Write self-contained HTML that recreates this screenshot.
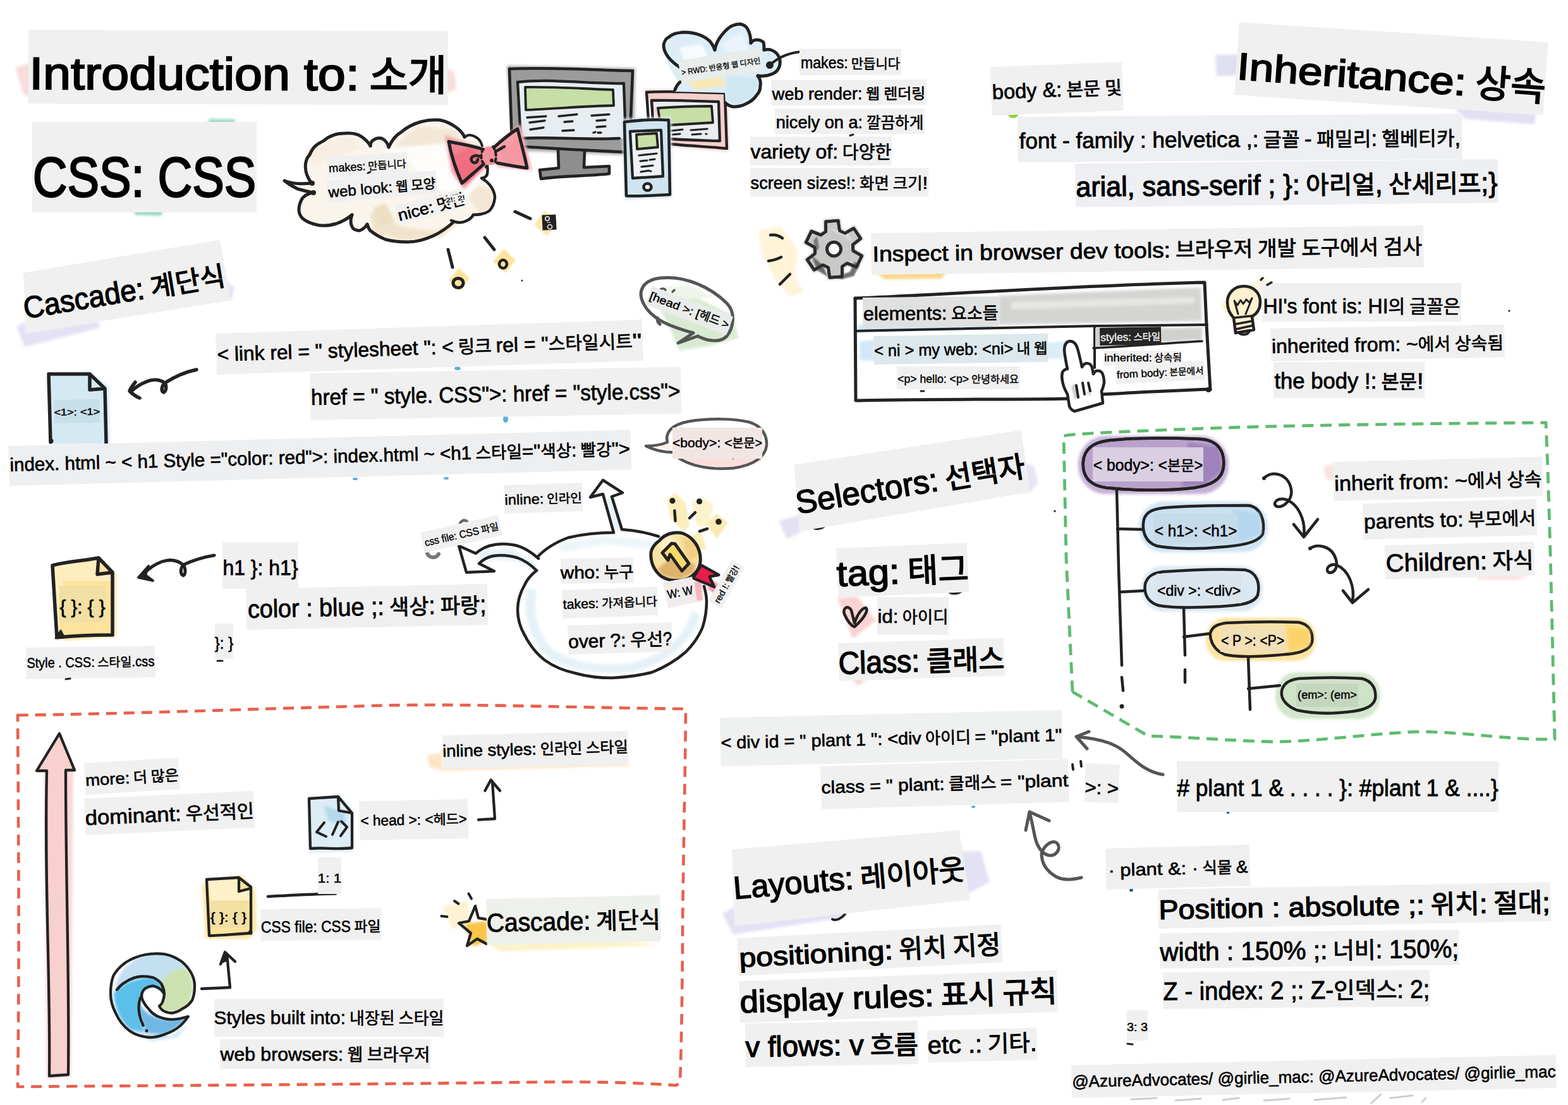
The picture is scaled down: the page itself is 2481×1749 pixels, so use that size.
<!DOCTYPE html>
<html lang="ko"><head><meta charset="utf-8"><title>Introduction to CSS sketchnote</title>
<style>
html,body{margin:0;padding:0;background:#fff;}
body{width:2481px;height:1749px;overflow:hidden;font-family:"Liberation Sans","Noto Sans CJK KR",sans-serif;}
svg{display:block;font-family:"Liberation Sans","Noto Sans CJK KR",sans-serif;}
text{white-space:pre;}
.k{fill:none;stroke:#222;stroke-linecap:round;stroke-linejoin:round;}
.g{fill:none;stroke:#555;stroke-linecap:round;stroke-linejoin:round;}
</style></head><body>
<svg width="2481" height="1749" viewBox="0 0 2481 1749" stroke-width="5">
<defs>
<filter id="wc" x="-10%" y="-10%" width="120%" height="120%"><feGaussianBlur stdDeviation="2.2"/></filter>
<filter id="wc1" x="-10%" y="-10%" width="120%" height="120%"><feGaussianBlur stdDeviation="1.2"/></filter>
</defs>
<rect width="2481" height="1749" fill="#fff"/>
<g id="under">
<!-- watercolor strokes behind titles -->
<g filter="url(#wc)">
<path d="M24,107 L46,100 L700,104 L719,115 L722,141 L709,148 L46,152 L37,150 Z" fill="#f9dddd"/>
<path d="M330,188 L372,189 L372,196 L330,196 Z" fill="#9ad9c6"/>
<path d="M213,332 L256,333 L256,341 L213,340 Z" fill="#8fd4c0"/>
<path d="M26,517 L41,509 L42,526 L156,508 L158,519 L39,549 Z" fill="#e3e1f4"/>
<path d="M352,440 L371,455 L366,476 L350,470 Z" fill="#e6e4f5"/>
<path d="M1923,87 L1962,86 L1960,119 L1925,121 Z" fill="#e0dff2"/>
<path d="M2300,170 L2430,180 L2428,197 L2318,188 Z" fill="#e2e0f3"/>
<path d="M1232,825 L1266,815 L1268,842 L1245,853 Z" fill="#e3e1f4"/>
<path d="M1612,732 L1636,737 L1642,764 L1630,780 L1612,776 Z" fill="#e6e4f6"/>
<path d="M1518,1348 L1552,1347 L1566,1396 L1532,1414 Z" fill="#e3e1f4"/>
<path d="M1143,1446 L1163,1435 L1164,1464 L1332,1444 L1336,1452 L1160,1479 Z" fill="#e3e1f4"/>
<path d="M1380,428 L1500,426 L1490,441 L1400,442 Z" fill="#fbd58a"/>
<path d="M1325,947 L1356,943 L1386,982 L1349,1011 Z" fill="#f9d3d0"/>
<path d="M1348,1074 L1370,1076 L1358,1086 Z" fill="#f9d3d0"/>
<path d="M2094,738 L2112,735 L2112,760 L2098,758 Z" fill="#fbe1de"/>
<path d="M2330,908 L2420,910 L2400,918 L2340,917 Z" fill="#fbe1de"/>
</g>
<!-- small blue drops -->
<g fill="#5aaee0"><ellipse cx="724" cy="583" rx="5" ry="3"/><ellipse cx="800" cy="663" rx="4" ry="6"/><ellipse cx="562" cy="758" rx="4" ry="2"/><ellipse cx="706" cy="757" rx="4" ry="2"/><ellipse cx="1540" cy="1277" rx="3" ry="2"/></g>
<g fill="#1f5f9a"><ellipse cx="1790" cy="1409" rx="3" ry="2.5"/><ellipse cx="1943" cy="1286" rx="2.5" ry="2"/></g>
<ellipse cx="1603" cy="181" rx="8" ry="6" fill="#8fd04a"/>

</g>
<g id="illus">
<!-- speech cloud -->
<g>
<path d="M450,286 C465,292 480,291 493,290 C478,270 483,252 490,245 C495,232 503,227 512,223 C522,214 533,211 545,211 C558,210 568,213 573,217 C580,222 584,227 586,231 C586,226 588,223 592,221 C596,218 600,218 604,219 C610,222 614,228 615,233 C620,222 626,214 635,209 C645,200 655,196 665,193 C676,190 686,189 696,190 C706,192 714,196 721,201 C728,206 733,212 735,217 C739,214 742,213 745,214 C751,215 755,218 758,221 C761,224 762,228 763,231 L772,268 C772,273 771,276 770,278 C767,281 764,282 762,282 C769,286 774,291 778,297 C781,302 783,308 783,313 C782,322 779,329 774,334 C768,338 758,340 749,340 C746,345 742,348 737,350 C731,353 723,353 717,352 C708,360 697,368 686,373 C673,379 659,383 645,383 C633,383 621,382 610,379 C600,375 592,370 586,365 C583,362 582,358 581,355 C578,360 574,363 569,365 C565,365 562,364 559,362 C556,358 555,354 555,350 C555,346 556,343 557,340 C550,346 541,351 532,354 C522,357 511,358 502,356 C493,354 485,351 479,346 C475,342 473,337 473,332 C473,325 475,319 479,313 C483,309 489,306 495,305 C486,303 478,301 471,299 C463,295 456,291 450,286 Z" fill="#faf5ec" stroke="none"/>
<g filter="url(#wc)" opacity="0.9">
<path d="M615,240 L660,200 L720,205 L735,225 L700,235 L650,255 Z" fill="#f2e7d3"/>
<path d="M585,335 L640,360 L690,365 L735,345 L700,375 L640,380 L590,368 Z" fill="#f0e2c8"/>
<path d="M740,290 L778,300 L780,325 L760,338 L745,320 Z" fill="#f1e6d2"/>
<path d="M590,330 L610,322 L625,350 L600,360 Z" fill="#ecdcc0"/>
<path d="M480,240 L520,225 L560,215 L570,235 L500,262 Z" fill="#f6eee0"/>
</g>
<path d="M600,235 L730,225 L765,285 L740,310 L690,300 L640,250 Z" fill="#fff" opacity="0.85" filter="url(#wc)"/>
<path class="k" d="M493,290 C480,291 465,292 450,286 C456,291 463,295 471,299 C478,301 486,303 495,305"/>
<path class="k" d="M493,290 C478,270 483,252 490,245 C495,232 503,227 512,223 C522,214 533,211 545,211 C558,210 568,213 573,217 C580,222 584,227 586,231"/>
<path class="k" d="M586,231 C586,226 588,223 592,221 C596,218 600,218 604,219 C610,222 614,228 615,233"/>
<path class="k" d="M615,233 C620,222 626,214 635,209 C645,200 655,196 665,193 C676,190 686,189 696,190 C706,192 714,196 721,201 C728,206 733,212 735,217"/>
<path class="k" d="M735,217 C739,214 742,213 745,214 C751,215 755,218 758,221 C761,224 762,228 763,231" stroke-width="4"/>
<path class="k" d="M771,262 C772,270 771,276 770,278 C767,281 764,282 762,282 C769,286 774,291 778,297 C781,302 783,308 783,313 C782,322 779,329 774,334 C768,338 758,340 749,340" stroke-width="4.5"/>
<path class="k" d="M749,340 C746,345 742,348 737,350 C731,353 723,353 714,349" stroke-width="4.5"/>
<path class="k" d="M717,352 C708,360 697,368 686,373 C673,379 659,383 645,383 C633,383 621,382 610,379 C600,375 592,370 586,365 C583,362 582,358 581,355"/>
<path class="k" d="M581,355 C578,360 574,363 569,365 C565,365 562,364 559,362 C556,358 555,354 555,350 C555,346 556,343 557,340"/>
<path class="k" d="M557,340 C550,346 541,351 532,354 C522,357 511,358 502,356 C493,354 485,351 479,346 C475,342 473,337 473,332 C473,325 475,319 479,313 C483,309 489,306 495,305"/>
<circle cx="494" cy="290" r="4" fill="#222"/><circle cx="496" cy="305" r="4" fill="#222"/>
</g>
<!-- yellow tags -->
<g>
<g filter="url(#wc1)">
<path d="M862,333 L882,350 L866,374 L845,356 Z" fill="#fde8ad"/>
<path d="M797,394 L816,412 L800,432 L780,414 Z" fill="#fde39b"/>
<path d="M726,424 L743,440 L728,460 L710,444 Z" fill="#fde39b"/>
</g>
<path class="k" d="M815,335 L839,346"/>
<path class="k" d="M767,376 L782,395"/>
<path class="k" d="M709,395 L716,423"/>
<rect x="858" y="340" width="22" height="24" fill="#222" transform="rotate(-3 869 352)"/>
<circle cx="866" cy="346" r="3.2" fill="none" stroke="#eee" stroke-width="1.6"/><circle cx="870" cy="359" r="3.5" fill="none" stroke="#eee" stroke-width="1.6"/>
<circle cx="867" cy="352" r="0.9" fill="#eee"/><circle cx="870" cy="352" r="0.9" fill="#eee"/>
<ellipse cx="796" cy="418" rx="6" ry="6.5" fill="#fde39b" stroke="#222" stroke-width="4.5"/>
<ellipse cx="725" cy="448" rx="8" ry="7.5" fill="#fde39b" stroke="#222" stroke-width="5"/>
<circle cx="826" cy="444" r="1.5" fill="#333"/>
</g>
<!-- monitor -->
<g>
<path d="M802,104 L1005,108 L1003,246 L812,238 Z" fill="#a9a9a9" filter="url(#wc)"/>
<path d="M806,109 L1001,112 L997,241 L810,230 Z" fill="#9b9b9b"/>
<path d="M883,237 L925,239 L923,266 L964,263 L964,276 L855,284 L854,268 L884,266 Z" fill="#8e8e8e"/>
<path d="M819,128 L987,132 L990,219 L824,219 Z" fill="#e7edf0"/>
<path d="M831,138 L970,142 L971,167 L832,174 Z" fill="#c6dfa7"/>
<path class="k" d="M806,109 C870,106 940,111 1001,112" stroke-width="4.6"/>
<path class="k" d="M806,109 L810,226" stroke-width="4.6"/>
<path class="k" d="M1001,112 L998,188" stroke-width="4.6"/>
<path class="k" d="M819,130 C870,124 930,133 987,132 L990,219" stroke-width="4.3"/>
<path class="k" d="M819,130 L824,219 C870,216 930,222 980,219" stroke-width="4.3"/>
<path class="k" d="M831,138 C880,137 930,141 970,142 L971,167 C925,168 880,172 832,174 Z" stroke-width="3.8"/>
<path class="k" d="M830,232 C880,236 940,238 993,241" stroke-width="4.6"/>
<path class="k" d="M883,238 L884,266 L854,269 L856,283 C890,278 930,279 964,275 L964,263 L924,265 L925,240" stroke-width="4.6"/>
<g class="k" stroke-width="3.3">
<path d="M834,186 L864,184"/><path d="M838,194 L862,191"/><path d="M839,205 L860,202"/>
<path d="M884,184 L913,181"/><path d="M893,193 L906,192"/><path d="M890,207 L908,206"/>
<path d="M936,183 L964,181"/><path d="M944,191 L958,190"/><path d="M944,201 L958,200"/>
<path d="M939,210 L942,209"/><path d="M946,210 L951,210"/>
</g>
</g>
<!-- tablet -->
<g>
<path d="M1017,141 L1152,143 L1154,240 L1058,232 Z" fill="#f7d6d4" filter="url(#wc)"/>
<path d="M1023,145 L1147,147 L1150,235 L1060,227 Z" fill="#f5cfcd"/>
<path d="M1031,159 L1137,161 L1139,223 L1062,220 Z" fill="#e9edf0"/>
<path d="M1041,170 L1126,168 L1128,194 L1044,200 Z" fill="#c6dfa7"/>
<path class="k" d="M1023,146 C1060,143 1110,147 1147,147 L1150,235 C1120,232 1090,231 1062,228" stroke-width="4.3"/>
<path class="k" d="M1023,146 L1026,190" stroke-width="4.3"/>
<path class="k" d="M1031,159 C1070,158 1100,160 1137,161 L1139,223 C1110,222 1090,222 1063,220" stroke-width="4.3"/>
<path class="k" d="M1031,159 L1033,190" stroke-width="4.3"/>
<path class="k" d="M1041,171 C1070,169 1100,168 1126,168 L1128,194 L1060,198" stroke-width="3.8"/>
<path class="k" d="M1041,171 L1044,190" stroke-width="3.8"/>
<g class="k" stroke-width="3.2">
<path d="M1062,207 L1080,205"/><path d="M1064,213 L1076,212"/><path d="M1093,206 L1119,204"/><path d="M1095,213 L1109,212"/><path d="M1117,212 L1118,212"/>
</g>
</g>
<!-- phone -->
<g>
<path d="M984,188 L1062,185 L1064,312 L988,316 Z" fill="#d5e8f2" filter="url(#wc)"/>
<path d="M988,193 L1058,190 L1060,308 L991,310 Z" fill="#cfe4ef"/>
<path d="M997,208 L1046,206 L1049,279 L1001,282 Z" fill="#eef2f4"/>
<path d="M1007,213 L1039,211 L1041,233 L1008,236 Z" fill="#c6dfa7"/>
<path class="k" d="M988,193 C1010,190 1040,189 1058,190 L1060,308 C1040,309 1010,311 991,310 Z" stroke-width="4.6"/>
<path class="k" d="M997,208 L1046,206 L1049,279 L1001,282 Z" stroke-width="4.3"/>
<path class="k" d="M1007,213 L1039,211 L1041,233 L1008,236 Z" stroke-width="3.8"/>
<g class="k" stroke-width="3.2">
<path d="M1011,246 L1039,243"/><path d="M1013,255 L1024,254"/><path d="M1028,253 L1036,252"/><path d="M1015,264 L1033,262"/><path d="M1014,272 L1027,270"/><path d="M1029,271 L1030,271"/>
</g>
<ellipse cx="1024.5" cy="296" rx="6" ry="5.5" fill="#fff" stroke="#222" stroke-width="4.6"/>
</g>
<!-- bow tie -->
<g>
<g filter="url(#wc)">
<path d="M704,214 L768,236 L770,262 L734,300 L714,272 Z" fill="#f6a3ab"/>
<path d="M778,232 L824,196 L842,270 L786,264 Z" fill="#f7b3b9"/>
<path d="M712,246 L748,232 L768,262 L736,292 Z" fill="#ee5a70"/>
<path d="M718,262 L740,250 L752,275 L733,292 Z" fill="#e94862"/>
<path d="M792,238 L822,214 L836,256 L800,260 Z" fill="#f38b97"/>
<circle cx="772" cy="246" r="14" fill="#f5a6ae"/>
</g>
<path d="M710,224 C728,228 746,230 763,236 C759,244 760,254 765,260 C754,270 742,280 731,290 C722,270 714,248 710,224 Z" fill="#f27a89" opacity="0.75"/>
<path d="M782,233 C794,222 806,212 819,204 C824,225 830,246 834,266 C818,264 802,261 787,258 C786,250 786,240 782,233 Z" fill="#f59aa4" opacity="0.8"/>
<path d="M763,236 C770,232 778,231 782,233 C786,240 786,252 787,258 C780,262 772,262 765,260 C760,254 759,244 763,236 Z" fill="#f3909b"/>
<path class="k" d="M710,224 C728,228 746,230 763,236 M710,224 C714,248 722,270 731,290 C742,280 754,270 765,260"/>
<path class="k" d="M782,233 C794,222 806,212 819,204 C824,225 830,246 834,266 C818,264 802,261 787,258"/>
<path class="k" d="M765,236 C760,242 760,254 766,260 M780,232 C786,240 786,252 782,260" stroke-width="4" stroke-dasharray="5 5"/>
<path class="k" d="M760,248 C752,244 744,248 746,254 C748,260 756,258 756,252" stroke-width="4.5"/>
<path class="k" d="M784,240 L798,232" stroke-width="4.5"/>
<circle cx="770" cy="264" r="3" fill="#222"/><circle cx="778" cy="254" r="3" fill="#222"/>
</g>
<!-- RWD cloud -->
<g>
<path d="M1068,142 L1074,130 C1060,110 1050,90 1050,71 C1052,62 1055,60 1058,59 C1066,52 1074,52 1081,51 C1092,51 1102,53 1109,56 C1118,60 1123,64 1126,69 C1129,73 1130,76 1131,79 C1132,72 1135,66 1138,61 C1144,52 1150,46 1156,42 C1162,39 1166,38 1171,38 C1177,39 1181,42 1183,46 C1187,53 1188,60 1188,68 C1191,64 1194,63 1197,63 C1202,63 1205,64 1208,67 C1209,71 1209,75 1209,79 C1213,78 1217,78 1220,79 C1226,81 1230,85 1232,89 C1235,95 1235,100 1233,106 C1231,111 1227,115 1222,117 C1215,120 1207,121 1199,120 C1203,125 1204,131 1203,136 C1203,142 1201,147 1197,151 C1193,157 1186,162 1179,165 C1173,168 1167,169 1160,169 C1155,168 1151,166 1148,163 L1147,147 L1068,145 Z" fill="#dcedf6"/>
<g filter="url(#wc)"><path d="M1075,75 L1110,70 L1125,100 L1090,120 Z" fill="#fff" opacity="0.8"/><path d="M1150,120 L1200,125 L1195,150 L1165,165 L1150,160 Z" fill="#cfe6f3"/><path d="M1140,70 L1175,50 L1185,80 L1160,95 Z" fill="#eaf4fa"/><path d="M1085,128 L1140,120 L1150,135 L1100,142 Z" fill="#f8e9b5"/></g>
<path class="k" d="M1068,142 C1070,137 1072,133 1076,130"/>
<path class="k" d="M1078,108 C1062,98 1050,86 1050,71 C1052,62 1055,60 1058,59 C1066,52 1074,52 1081,51 C1092,51 1102,53 1109,56 C1118,60 1123,64 1126,69 C1129,73 1130,76 1131,79"/>
<path class="k" d="M1131,79 C1132,72 1135,66 1138,61 C1144,52 1150,46 1156,42 C1162,39 1166,38 1171,38 C1177,39 1181,42 1183,46 C1187,53 1188,60 1188,68"/>
<path class="k" d="M1188,68 C1191,64 1194,63 1197,63 C1202,63 1205,64 1208,67 C1209,71 1209,75 1209,79"/>
<path class="k" d="M1209,79 C1213,78 1217,78 1220,79 C1226,81 1230,85 1232,89 C1235,95 1235,100 1233,106 C1231,111 1227,115 1222,117 C1215,120 1207,121 1199,120"/>
<path class="k" d="M1199,120 C1203,125 1204,131 1203,136 C1203,142 1201,147 1197,151 C1193,157 1186,162 1179,165 C1173,168 1167,169 1160,169 C1155,168 1151,166 1148,163"/>
<circle cx="1218" cy="103" r="6" fill="#222"/>
<path class="k" d="M1218,103 C1230,92 1246,84 1266,82" stroke-width="4"/>
</g>

<!-- gear -->
<g>
<path d="M1306.6,366.7 L1306.6,350.7 L1326.2,349.3 L1328.4,365.1 L1337.0,369.3 L1350.8,361.3 L1361.8,377.6 L1349.2,387.4 L1349.9,397.0 L1363.7,404.9 L1355.1,422.6 L1340.3,416.6 L1332.4,421.9 L1332.4,437.9 L1312.8,439.3 L1310.6,423.5 L1302.0,419.3 L1288.2,427.3 L1277.2,411.0 L1289.8,401.2 L1289.1,391.6 L1275.3,383.7 L1283.9,366.0 L1298.7,372.0 Z" fill="#cfcfcd" stroke="#cfcfcd" stroke-width="8" filter="url(#wc1)"/>
<path d="M1306.6,366.7 L1306.6,350.7 L1326.2,349.3 L1328.4,365.1 L1337.0,369.3 L1350.8,361.3 L1361.8,377.6 L1349.2,387.4 L1349.9,397.0 L1363.7,404.9 L1355.1,422.6 L1340.3,416.6 L1332.4,421.9 L1332.4,437.9 L1312.8,439.3 L1310.6,423.5 L1302.0,419.3 L1288.2,427.3 L1277.2,411.0 L1289.8,401.2 L1289.1,391.6 L1275.3,383.7 L1283.9,366.0 L1298.7,372.0 Z" fill="#c9c9c7" stroke="#2a2a2a" stroke-width="4.6" stroke-linejoin="round"/>
<g filter="url(#wc1)"><path d="M1284,404 L1293,428 L1310,438 L1302,420 Z" fill="#6b6b69"/><path d="M1324,438 L1345,430 L1352,414 L1360,419 L1351,437 L1331,442 Z" fill="#70706e"/><path d="M1287,381 L1293,374 L1296,392 L1291,399 Z" fill="#777"/><path d="M1312,362 L1340,366 L1349,384 L1335,373 Z" fill="#dcdcda"/></g>
<path d="M1306.6,366.7 L1306.6,350.7 L1326.2,349.3 L1328.4,365.1 L1337.0,369.3 L1350.8,361.3 L1361.8,377.6 L1349.2,387.4 L1349.9,397.0 L1363.7,404.9 L1355.1,422.6 L1340.3,416.6 L1332.4,421.9 L1332.4,437.9 L1312.8,439.3 L1310.6,423.5 L1302.0,419.3 L1288.2,427.3 L1277.2,411.0 L1289.8,401.2 L1289.1,391.6 L1275.3,383.7 L1283.9,366.0 L1298.7,372.0 Z" fill="none" stroke="#2a2a2a" stroke-width="4.6" stroke-linejoin="round"/>
<circle cx="1319.5" cy="394.3" r="11" fill="#fff" stroke="#2a2a2a" stroke-width="5"/>
<g filter="url(#wc)" opacity="0.9"><path d="M1200,365 L1235,358 L1262,395 L1258,440 L1272,462 L1250,470 L1225,440 L1205,400 Z" fill="#fff3d4"/></g>
<path class="k" d="M1219,372 C1227,371 1233,373 1238,377" stroke-width="4.5"/>
<path class="k" d="M1216,413 C1224,412 1230,410 1236,407" stroke-width="4.5"/>
<path class="k" d="M1234,450 L1250,434" stroke-width="4.5"/>
</g>
<!-- head bubble -->
<g>
<ellipse cx="1086" cy="488" rx="79" ry="40" transform="rotate(21 1086 488)" fill="#fff"/>
<g filter="url(#wc)"><path d="M1040,480 L1100,470 L1160,500 L1168,535 L1120,548 L1075,555 L1060,520 Z" fill="#d9ead2"/><path d="M1045,455 L1090,450 L1130,470 L1080,475 Z" fill="#eef5ea"/></g>
<path class="g" d="M1097,527 C1060,517 1030,505 1018,480 C1008,460 1018,443 1045,440 C1085,436 1125,455 1150,480 C1165,495 1160,520 1150,532 C1140,543 1120,540 1104,532 M1097,527 L1073,543 L1104,532" stroke-width="5"/>
<path class="g" d="M1040,503 C1040,508 1041,511 1044,513" stroke-width="5"/>
<path class="g" d="M1043,459 C1047,456 1051,456 1053,459 M1064,462 L1067,459" stroke-width="3.5"/>
</g>
<!-- devtools panel -->
<g>
<path d="M1353,472 L1906,447 L1909,514 L1354,524 Z" fill="#fff"/>
<g filter="url(#wc)"><path d="M1580,468 L1900,455 L1902,508 L1580,514 Z" fill="#d4d4d2"/><path d="M1600,478 L1890,470 L1890,480 L1600,490 Z" fill="#e6e6e4"/><path d="M1836,520 L1902,518 L1902,538 L1836,542 Z" fill="#d0d0ce"/>
<path d="M1358,514 L1570,510 L1570,520 L1358,524 Z" fill="#cfe6f3"/><path d="M1360,540 L1384,538 L1384,572 L1360,570 Z" fill="#d3e8f4"/><path d="M1656,542 L1690,540 L1690,566 L1656,568 Z" fill="#dcedf6"/></g>
<path class="k" d="M1353,472 C1500,466 1700,452 1906,447 L1909,514 L1915,617" stroke-width="5"/>
<path class="k" d="M1353,472 L1354,634 C1450,631 1600,633 1690,631" stroke-width="5"/>
<path class="k" d="M1746,624 C1800,621 1860,618 1915,616" stroke-width="5"/>
<path class="k" d="M1353,524 C1500,520 1650,518 1730,516 C1800,515 1860,514 1910,514" stroke-width="4"/>
<path class="k" d="M1732,518 L1732,582" stroke-width="4"/>
<path class="k" d="M1730,551 C1790,548 1850,543 1902,540" stroke-width="3.5"/>
<rect x="1733" y="519" width="8" height="30" fill="#cfcfcf"/>
<circle cx="1912" cy="617" r="4" fill="#222"/>
</g>
<!-- lightbulb -->
<g>
<g filter="url(#wc)"><path d="M1932,485 L1950,456 L1985,450 L1996,470 L1990,505 L1955,515 Z" fill="#fdf0d0"/><path d="M1983,450 L1996,436 L2010,448 L1996,462 Z" fill="#fdf3dc"/></g>
<path d="M1968,453 C1985,453 1994,465 1994,478 C1994,490 1988,497 1981,501 L1984,522 L1955,527 L1952,503 C1946,497 1942,488 1942,478 C1942,465 1952,453 1968,453 Z" fill="#fdf0cf" stroke="#222" stroke-width="4.5" stroke-linejoin="round"/>
<path class="k" d="M1952,503 L1981,500 M1955,513 L1982,508 M1956,521 L1983,515" stroke-width="3.5"/>
<path class="k" d="M1960,526 C1964,531 1974,531 1977,524" stroke-width="4"/>
<path class="k" d="M1953,476 L1959,497 M1981,472 L1971,497 M1953,476 L1958,483 L1963,475 L1967,481 L1972,474 L1977,479 L1981,472" stroke-width="3"/>

</g>

<!-- blue file -->
<g>
<path d="M72,600 L140,586 L172,612 L174,702 L84,704 Z" fill="#d7ebf4" filter="url(#wc)"/>
<path d="M77,592 L142,592 L166,615 L168,702 L80,702 Z" fill="#d4eaf3"/>
<path class="k" d="M77,592 L142,592 L166,615 L168,702 M77,592 L80,700 M142,592 L142,617 L166,615" stroke-width="5.5"/>
<circle cx="81" cy="698" r="3.5" fill="#222"/>
<path class="k" d="M311,585 C292,589 275,597 261,606 C264,612 263,619 259,621 C254,619 256,610 261,606 C252,600 241,600 232,604 C222,608 214,613 207,620 M214,605 C210,610 206,615 205,619 C210,624 216,628 221,630" stroke-width="5.5"/>
</g>
<!-- yellow file -->
<g>
<path d="M92,898 L150,884 L184,908 L184,1008 L100,1014 Z" fill="#fde6a6" filter="url(#wc)"/>
<path d="M83,895 L156,883 L178,906 L178,1005 L90,1009 Z" fill="#fde39b"/>
<path d="M83,895 L156,883 L154,909 L178,906 L178,920 L100,920 L94,1000 L90,1009 Z" fill="#fff" opacity="0.35"/>
<path class="k" d="M83,895 C105,889 130,888 156,883 L178,906 L178,1005 C150,1005 120,1006 90,1009 Z M156,883 L154,909 L178,906" stroke-width="5.5"/>
<path d="M88,1010 L96,998 L100,1006 Z" fill="#222" stroke="#222" stroke-width="3" stroke-linejoin="round"/>
<path class="k" d="M339,879 C320,882 303,888 290,894 C294,900 294,909 290,911 C285,909 285,900 290,894 C280,886 268,885 256,889 C244,893 233,902 225,910" stroke-width="5"/>
<path d="M235,896 L219,914 L242,919 L230,910 Z" fill="#222" stroke="#222" stroke-width="4" stroke-linejoin="round"/>
</g>
<!-- big bubble who takes over -->
<g>
<path d="M1042,849 C1020,842 1000,839 984,838 L968,786 L985,780 L954,760 L934,787 L954,782 L971,843 C945,843 920,846 899,851 C880,858 863,868 850,882 C836,870 822,863 809,862 C796,860 784,861 774,864 C765,867 758,871 753,876 L726,864 L738,906 L782,904 L758,892 C764,886 771,882 780,880 C793,878 806,879 819,883 C830,887 840,894 849,903 C840,910 834,917 830,926 C822,940 819,952 819,965 C819,980 823,993 830,1005 C838,1021 848,1034 862,1045 C876,1055 893,1062 912,1066 C930,1071 949,1073 968,1073 C990,1072 1012,1069 1032,1064 C1052,1056 1070,1045 1085,1032 C1097,1020 1106,1007 1112,992 C1116,979 1118,966 1118,952 C1118,943 1116,935 1114,928 L1095,912 Z" fill="#fff"/>
<g filter="url(#wc)" opacity="0.9">
<path d="M835,930 C826,960 832,1000 860,1035 C890,1062 950,1068 1000,1064 C1050,1052 1095,1020 1108,975 L1095,965 C1085,1010 1045,1040 995,1050 C950,1055 900,1048 872,1025 C848,998 842,960 850,935 Z" fill="#e3f0f7"/>
<path d="M760,872 L810,868 L845,890 L850,905 L815,888 L775,886 L755,895 Z" fill="#e3f0f7"/>
<path d="M958,790 L972,786 L986,838 L972,842 Z" fill="#e6f1f7"/>
<path d="M880,860 L960,848 L1040,856 L1030,870 L960,862 L890,874 Z" fill="#edf5f9"/>
</g>
<path class="k" d="M1042,849 C1020,842 1000,839 984,838 L968,786 L985,780 L954,760 L934,787 L954,782 L971,843 C945,843 920,846 899,851 C880,858 863,868 850,882" stroke-width="4.5"/>
<path class="k" d="M852,884 C836,870 822,863 809,862 C796,860 784,861 774,864 C765,867 758,871 753,876 L726,864 L738,906 L782,904 L758,892 C764,886 771,882 780,880 C793,878 806,879 819,883 C830,887 840,894 849,903" stroke-width="4.5"/>
<path class="k" d="M849,903 C840,910 834,917 830,926 C822,940 819,952 819,965 C819,980 823,993 830,1005 C838,1021 848,1034 862,1045 C876,1055 893,1062 912,1066 C930,1071 949,1073 968,1073 C990,1072 1012,1069 1032,1064 C1052,1056 1070,1045 1085,1032 C1097,1020 1106,1007 1112,992 C1116,979 1118,966 1118,952 C1118,943 1116,935 1114,928" stroke-width="4.5"/>
<!-- gray blobs near css file label -->
<path d="M728,828 C732,822 738,822 740,828" fill="none" stroke="#666" stroke-width="4.5" stroke-linecap="round"/>
<path d="M676,876 C680,884 690,884 694,877" fill="none" stroke="#777" stroke-width="6" stroke-linecap="round"/>
</g>
<!-- sparkles -->
<g>
<g filter="url(#wc1)">
<path d="M1055,789.5 L1069,780 L1085,796 L1091,832 L1082,840 L1061.5,822 Z" fill="#fbeebb"/>
<path d="M1094,793 L1111,787 L1129,800 L1118.6,835 L1103,832 Z" fill="#fcf2cc"/>
<path d="M1118.6,828.4 L1134,813 L1151.6,827 L1134,853 Z" fill="#fbeab0"/>
<path d="M1090,850 L1110,842 L1118,870 L1100,868 Z" fill="#fbeebb"/>
</g>
<circle cx="1064" cy="792.7" r="4.6" fill="#222"/><circle cx="1106.6" cy="793.7" r="4.6" fill="#222"/><circle cx="1137" cy="825.8" r="4.8" fill="#222"/>
<path class="k" d="M1067.3,808.3 L1068.6,824.5 M1091,820 L1100,811.2 M1107,841 L1119.2,836.8" stroke-width="4.5"/>
</g>
<!-- medal -->
<g>
<g filter="url(#wc1)"><path d="M1098,920 L1110,918 L1112,950 L1102,952 Z" fill="#f6b6c0"/><path d="M1122,915 L1138,925 L1130,940 L1120,932 Z" fill="#f4a3b0"/></g>
<path d="M1109.5,894.5 L1137.4,910 L1122.5,912.7 L1130.2,929 L1096.5,915 Z" fill="#ea1c4c" stroke="#222" stroke-width="4.5" stroke-linejoin="round"/>
<ellipse cx="1069" cy="881" rx="38" ry="37" fill="#f9e2a3"/>
<g filter="url(#wc)"><path d="M1040,900 L1060,885 L1100,892 L1098,906 L1075,917 L1050,912 Z" fill="#ddb26c"/><path d="M1040,860 L1062,848 L1075,862 L1052,880 Z" fill="#fdf0c8"/><path d="M1078,850 L1100,856 L1106,880 L1090,888 Z" fill="#f2cf82"/></g>
<path d="M1043,856 C1052,845 1066,841 1080,844 C1096,850 1106,864 1108,880 C1110,896 1102,908 1090,915 C1076,921 1058,920 1046,912 C1034,902 1029,888 1030,874 C1032,866 1037,860 1043,856 Z" fill="none" stroke="#222" stroke-width="5" stroke-linejoin="round"/>
<path d="M1062.8,860 L1047.9,875 L1057,886.7 L1060.2,877.6 L1079,903.6 L1090,892 L1068,860.8 Z" fill="#f6d96b" stroke="#222" stroke-width="5" stroke-linejoin="round"/>
</g>
<!-- body bubble -->
<g>
<ellipse cx="1134" cy="703" rx="80" ry="38" fill="#fff"/>
<g filter="url(#wc)"><path d="M1060,715 L1210,700 L1205,730 L1160,742 L1100,738 Z" fill="#f8dfdb"/><path d="M1030,705 L1060,702 L1062,714 Z" fill="#fbe9e6"/></g>
<path class="g" d="M1056,700 C1052,685 1062,672 1090,667 C1120,662 1160,662 1185,668 C1206,674 1214,690 1213,705 C1211,722 1195,736 1160,741 C1125,744 1090,738 1070,722 C1068,720 1067,718 1066,716 C1052,716 1036,713 1022,706 C1034,706 1046,704 1056,700 Z" stroke-width="4.5"/>
<circle cx="1160" cy="725" r="2" fill="#444"/>
</g>

<!-- green dashed box -->
<path d="M1697,1095 L1687,883 L1683,690 C1700,686 1800,682 1937,677 C2100,672 2300,670 2446,669 C2452,800 2456,1000 2460,1170 C2400,1172 2330,1160 2252,1158 C2170,1160 2090,1174 2012,1174 C1940,1172 1870,1166 1817,1165 L1697,1095" fill="none" stroke="#5fbb70" stroke-width="4.8" stroke-dasharray="18 11" stroke-linejoin="round"/>
<!-- tree -->
<g>
<g filter="url(#wc)">
<rect x="1706" y="690" width="238" height="92" rx="44" fill="#c5b0d6"/>
<rect x="1802" y="794" width="204" height="80" rx="38" fill="#cfe5f3"/>
<rect x="1806" y="896" width="192" height="72" rx="34" fill="#dbe8f2"/>
<rect x="1908" y="978" width="174" height="68" rx="32" fill="#fde3a0"/>
<rect x="2018" y="1064" width="166" height="74" rx="34" fill="#d3e6cb"/>
</g>
<path d="M1755,697 C1800,692 1850,693 1900,695 C1928,697 1938,715 1936,738 C1934,760 1915,768 1890,772 C1840,778 1790,776 1750,772 C1722,768 1712,752 1714,730 C1716,710 1730,700 1755,697 Z" fill="#b9a1cc" stroke="#222" stroke-width="4.5"/>
<path d="M1880,700 L1930,708 L1934,745 L1905,768 L1870,770 Z" fill="#9f82bc" filter="url(#wc)"/>
<path d="M1755,697 C1800,692 1850,693 1900,695 C1928,697 1938,715 1936,738 C1934,760 1915,768 1890,772 C1840,778 1790,776 1750,772 C1722,768 1712,752 1714,730 C1716,710 1730,700 1755,697 Z" fill="none" stroke="#222" stroke-width="4.5"/>
<path d="M1840,804 C1880,800 1930,800 1975,800 C1995,802 2002,825 1998,845 C1990,860 1960,864 1930,866 C1890,870 1850,868 1830,864 C1812,858 1806,840 1810,822 C1814,810 1824,806 1840,804 Z" fill="#c9e1f1" stroke="#222" stroke-width="4.5"/>
<path d="M1950,806 L1992,812 L1996,845 L1960,858 Z" fill="#b5d7ee" filter="url(#wc)"/>
<path d="M1840,905 C1880,902 1930,900 1970,902 C1990,906 1994,925 1990,942 C1984,956 1960,958 1930,960 C1890,962 1850,962 1832,958 C1814,952 1810,938 1812,924 C1816,912 1824,907 1840,905 Z" fill="#dbe7f1" stroke="#222" stroke-width="4.5"/>
<path d="M1940,986 C1980,984 2020,984 2055,985 C2072,988 2078,1002 2076,1016 C2072,1032 2050,1035 2020,1037 C1990,1040 1955,1040 1938,1036 C1922,1030 1914,1015 1915,1002 C1918,992 1926,988 1940,986 Z" fill="#fde1a0" stroke="#222" stroke-width="4.5"/>
<path d="M2035,990 L2072,996 L2072,1022 L2040,1032 Z" fill="#fbd36a" filter="url(#wc)"/>
<path d="M2055,1074 C2090,1072 2125,1072 2155,1074 C2172,1078 2178,1092 2176,1106 C2172,1122 2150,1126 2120,1128 C2095,1130 2070,1128 2052,1124 C2036,1118 2026,1106 2028,1094 C2030,1082 2040,1076 2055,1074 Z" fill="#cfe3c7" stroke="#222" stroke-width="4.5"/>
<path class="k" d="M1767,775 L1770,900 L1775,1053 M1775,1072 L1777,1093 M1768,837 L1808,838 M1773,937 L1810,935" stroke-width="4.5"/>
<circle cx="1775" cy="1118" r="3.5" fill="#222"/>
<path class="k" d="M1873,962 L1875,1037 M1875,1060 L1875,1080 M1873,1008 L1913,1003" stroke-width="4.5"/>
<path class="k" d="M1975,1040 L1978,1123 M1975,1090 L2025,1085" stroke-width="4.5"/>
<!-- curly arrows -->
<path class="k" d="M2000,757 C2010,745 2035,748 2042,770 C2048,790 2032,802 2022,802 C2012,800 2018,788 2032,790 C2055,796 2066,825 2063,848 M2047,830 L2063,850 L2085,822" stroke-width="4.5"/>
<path class="k" d="M2073,868 C2085,860 2108,864 2114,886 C2118,902 2108,908 2102,906 C2096,900 2104,892 2114,894 C2135,902 2144,930 2140,952 M2125,935 L2140,954 L2165,933" stroke-width="4.5"/>
<circle cx="2000" cy="757" r="3" fill="#222"/><circle cx="2073" cy="868" r="3" fill="#222"/>
</g>

<!-- red dashed box -->
<path d="M28,1132 C200,1130 400,1122 561,1118 C700,1112 900,1120 1085,1122 C1084,1250 1080,1400 1080,1500 C1079,1600 1078,1660 1076,1713 L1070,1718 C990,1712 900,1712 830,1713 C600,1716 300,1718 28,1720 C31,1500 29,1300 28,1132 Z" fill="none" stroke="#e8604c" stroke-width="4.6" stroke-dasharray="17 11" stroke-linejoin="round"/>
<!-- big pink arrow -->
<g>
<path d="M70,1215 L92,1168 L116,1212 L112,1704 L74,1708 Z" fill="#f9d9d6" filter="url(#wc)"/>
<path d="M78,1703 C80,1550 70,1400 74,1220 L58,1220 L94,1161 L118,1219 L104,1219 C104,1400 110,1550 108,1701 Z" fill="#f8d0cd" stroke="#222" stroke-width="4.3" stroke-linejoin="round"/>
</g>
<!-- blue file -->
<g>
<path d="M486,1262 L538,1258 L560,1284 L560,1348 L490,1350 Z" fill="#e0eff6" filter="url(#wc)"/>
<path d="M489,1264 L535,1261 L557,1287 L557,1342 L491,1343 Z" fill="#ddedf5"/>
<path d="M512,1275 L545,1285 L548,1305 L520,1300 Z" fill="#b5d9ea" filter="url(#wc)"/>
<path class="k" d="M489,1264 L535,1261 L557,1287 L557,1342 C535,1345 510,1341 491,1343 Z M535,1261 L536,1283 L557,1287" stroke-width="4.3"/>
<path class="k" d="M513,1302 L501,1317 L516,1324 M535,1301 L526,1321 M540,1300 L549,1309 L539,1323" stroke-width="4"/>
</g>
<!-- yellow file small -->
<g>
<path d="M320,1400 L380,1384 L404,1408 L406,1470 L395,1486 L325,1486 Z" fill="#fde6a6" filter="url(#wc)"/>
<path d="M327,1392 L378,1389 L397,1404 L397,1477 L331,1481 Z" fill="#fde39b"/>
<path d="M327,1392 L378,1389 L378,1411 L397,1406 L397,1425 L333,1425 Z" fill="#fff" opacity="0.45"/>
<path class="k" d="M327,1392 L378,1389 L397,1404 L397,1477 C375,1478 350,1481 331,1481 Z M378,1389 L378,1411 L397,1406" stroke-width="4.3"/>
<circle cx="396" cy="1476" r="3.5" fill="#222"/>
<path class="k" d="M424,1419 C460,1417 500,1415 531,1414.5" stroke-width="4.5"/>
</g>
<!-- arrows -->
<path class="k" d="M319,1565 L364,1563 L359,1510 M349,1526 L356,1507 L372,1522" stroke-width="4.3"/>
<path d="M349,1526 L356,1507 L362,1520 Z" fill="#222"/>
<path class="k" d="M757,1297.5 L783,1296 L779,1237 M767.5,1251.5 L776.6,1234.5 L791,1251.5" stroke-width="4.3"/>
<!-- edge logo -->
<g>
<g filter="url(#wc)">
<path d="M183,1560 C190,1530 215,1512 245,1508 C275,1506 300,1530 306,1555 L262,1570 C255,1552 240,1545 222,1546 C205,1550 192,1558 183,1566 Z" fill="#c3dff2"/>
<path d="M180,1570 C200,1552 225,1545 243,1548 C255,1555 260,1565 258,1572 C250,1562 240,1560 230,1565 C222,1575 220,1595 224,1620 C228,1632 232,1640 238,1641 C205,1640 180,1610 180,1570 Z" fill="#5bbfea"/>
<path d="M222,1590 C228,1600 240,1612 268,1614 L296,1610 C285,1628 262,1640 236,1642 C228,1632 222,1610 222,1590 Z" fill="#6fb8e4"/>
<path d="M255,1556 C262,1540 285,1525 300,1538 C310,1560 306,1585 290,1596 C280,1602 265,1604 258,1600 L252,1592 C260,1585 262,1572 255,1556 Z" fill="#cbe2b0"/>
<path d="M205,1630 L240,1648 L280,1642 L300,1620 L270,1640 Z" fill="#cfe6f4"/>
</g>
<path class="k" d="M297.6,1609 C294,1615 290,1619 286,1623 C278,1630 270,1634 261,1637 C253,1640 245,1642 236.5,1642 C225,1641 214,1638 205.6,1632 C196,1625 188,1615 183,1603.5 C178,1594 175,1584 175,1572.6 C175,1562 176,1553 179.6,1544 C184,1536 191,1529 199.4,1523 C209,1517 219,1513 230,1511 C241,1509 251,1509 261,1510.3 C270,1512 279,1516 286,1521 C293,1526 298,1532 302,1539 C306,1546 308,1553 308,1560 C308,1568 307,1576 304.4,1582.5 C301,1588 296,1593 289.6,1596 C284,1600 278,1603 271,1603.5 C266,1603 262,1602 258.7,1600 C256,1598 253,1595 252,1592.4 C255,1590 257,1588 257.5,1585 C259,1581 260,1577 260,1572.6" stroke-width="4.3"/>
<path class="k" d="M185,1566.5 C189,1561 194,1557 199.4,1554 C207,1549 215,1546 224,1545.5 C231,1545 237,1546 242.6,1547.3 C248,1550 252,1553 255,1556.6 C258,1562 259.5,1567 260,1572.6" stroke-width="4.3"/>
<path class="k" d="M260,1573.5 C258,1570 256,1567 252.5,1565 C249,1562 245,1561 241.4,1560.3 C237,1561 232,1563 229,1565 C226,1568 224,1572 224,1576.3 C224,1580 225,1582 226.6,1585 C229,1590 232,1594 236.5,1598.6 C240,1603 244,1606 248.8,1608.5 C255,1611 261,1613 267.3,1613.4 C274,1614 280,1613 286,1612 C290,1611 294,1610 297.6,1609" stroke-width="4.3"/>
<path class="k" d="M224,1576 C221,1581 220,1586 219.8,1591 C219,1597 220,1602 221,1607 C222,1613 224,1618 226.6,1623" stroke-width="4.3"/>
<circle cx="232" cy="1631.5" r="2.5" fill="#222"/>
</g>
<!-- star -->
<g>
<g filter="url(#wc)"><path d="M700,1435 L740,1425 L745,1465 L715,1470 Z" fill="#fdf2d3"/><path d="M735,1462 L770,1458 L772,1490 L748,1498 Z" fill="#f9c546"/><path d="M770,1492 L900,1488 L1000,1490 L1040,1496 L900,1502 L790,1506 Z" fill="#fbf3c8"/></g>
<path class="k" d="M770,1455 L757,1453 L752,1434 L742,1458 L726,1461 L745,1477 L739,1497 L755,1486 L770,1494" stroke-width="4.3"/>
<path class="k" d="M698.5,1450 L707.5,1451 M719,1426 L725.5,1430.5 M741.5,1414.5 L746,1422.5" stroke-width="4"/>
</g>
<!-- orange stroke under inline styles -->
<g filter="url(#wc)"><path d="M676,1195 L700,1192 L700,1214 L990,1206 L1000,1212 L700,1220 L680,1214 Z" fill="#fde5c4"/></g>

<!-- gray arrows bottom right -->
<path class="g" d="M1840,1226 C1815,1222 1800,1208 1782,1192 C1768,1180 1750,1170 1703,1166 M1723,1158 L1703,1166 L1720,1185" stroke-width="5"/>
<path class="g" d="M1711,1389 C1695,1393 1680,1393 1670,1387 C1655,1378 1648,1365 1648,1351 C1652,1338 1664,1329 1672,1334 C1680,1342 1672,1355 1660,1354 C1648,1352 1640,1338 1637,1322 C1634,1308 1632,1296 1629,1286 M1623,1314 L1629,1285 L1660,1299" stroke-width="5"/>
<path class="k" d="M1697,1210 L1698,1218 M1710,1205 L1711,1213" stroke-width="4"/>
<!-- heart -->
<path class="k" d="M1336,972 C1333,962 1342,957 1347,966 L1352,986 C1356,975 1362,963 1370,962 C1375,966 1366,980 1352,992 C1346,990 1340,981 1336,972" stroke-width="4.5"/>
<!-- small dark curls -->
<path class="k" d="M1503,938 C1510,941 1518,939 1523,934" stroke-width="4"/>
<path class="k" d="M1317,1455 C1323,1458 1331,1454 1337,1447" stroke-width="4"/>
<path class="k" d="M1288,836 C1294,838 1300,836 1304,833" stroke-width="4"/>
<circle cx="2310" cy="458" r="1.8" fill="#222"/><circle cx="2388" cy="492" r="1.6" fill="#222"/><circle cx="1669" cy="809" r="1.8" fill="#333"/>

</g>
<g id="boxes">
<g transform="translate(45,47) rotate(0.2)"><rect width="664" height="117" fill="#f0f0f0"/><title>Introduction to: 소개</title><text y="94" font-size="71.9" fill="#000" stroke="#000" stroke-width="2.13"><tspan x="1.5" textLength="522.5" lengthAdjust="spacingAndGlyphs">Introduction to:</tspan><tspan x="539.8 601.2" font-size="66.7">소개</tspan></text></g>
<g transform="translate(51,193) rotate(0)"><rect width="355" height="143" fill="#f0f0f0"/><title>CSS: CSS</title><text y="118" font-size="88.8" fill="#000" stroke="#000" stroke-width="2.55"><tspan x="0.8" textLength="353.5" lengthAdjust="spacingAndGlyphs">CSS: CSS</tspan></text></g>
<polygon points="37,432 348,379.5 365,475.5 41.5,527.5" fill="#f0f0f0"/><g transform="translate(42.3,504) rotate(-9.5)"><title>Cascade: 계단식</title><text y="0" font-size="48.1" fill="#000" stroke="#000" stroke-width="1.38"><tspan x="-2.3" textLength="192.9" lengthAdjust="spacingAndGlyphs">Cascade:</tspan><tspan x="200.9 240.7 280.5" font-size="43.2">계단식</tspan></text></g>
<g transform="translate(517,249) rotate(-3.6)"><rect width="127" height="33" fill="#f0f0f0"/><title>makes: 만듭니다</title><text y="24" font-size="18.3" fill="#000" stroke="#000" stroke-width="0.42"><tspan x="2.1" textLength="58.4" lengthAdjust="spacingAndGlyphs">makes:</tspan><tspan x="64.4 79.5 94.6 109.8" font-size="16.4">만듭니다</tspan></text></g>
<g transform="translate(516,285) rotate(-5)"><rect width="174" height="36" fill="#f0f0f0"/><title>web look: 웹 모양</title><text y="28" font-size="23.5" fill="#000" stroke="#000" stroke-width="0.54"><tspan x="1.9" textLength="101.8" lengthAdjust="spacingAndGlyphs">web look:</tspan><tspan x="108.7" font-size="21.2">웹</tspan><tspan x="133.2 152.7" font-size="21.2">모양</tspan></text></g>
<g transform="translate(624,326) rotate(-14.5)"><rect width="112" height="30" fill="#f0f0f0"/><title>nice: 멋진</title><text y="25" font-size="25.3" fill="#000" stroke="#000" stroke-width="0.62"><tspan x="1.7" textLength="57.8" lengthAdjust="spacingAndGlyphs">nice:</tspan><tspan x="65.4 87.8" font-size="24.4">멋진</tspan></text></g>
<g transform="translate(704,311) rotate(-10)"><rect width="31" height="12" fill="#f0f0f0"/><title>2!: 2!</title><text y="10" font-size="9.9" fill="#000" stroke="#000" stroke-width="0.32"><tspan x="0.3" textLength="30.3" lengthAdjust="spacingAndGlyphs">2!: 2!</tspan></text></g>
<g transform="translate(341,528) rotate(-1.87)"><rect width="675" height="65" fill="#f0f0f0"/><title>&lt; link rel = &quot; stylesheet &quot;: &lt; 링크 rel = &quot;스타일시트&quot;</title><text y="44" font-size="31.9" fill="#000" stroke="#000" stroke-width="0.74"><tspan x="1.5" textLength="374.4" lengthAdjust="spacingAndGlyphs">&lt; link rel = &quot; stylesheet &quot;: &lt;</tspan><tspan x="382.7 409.3" font-size="28.9">링크</tspan><tspan x="442.8" textLength="83.1" lengthAdjust="spacingAndGlyphs">rel = &quot;</tspan><tspan x="525.9 552.6 579.2 605.8 632.4" font-size="28.9">스타일시트</tspan><tspan x="659.0" textLength="14.6" lengthAdjust="spacingAndGlyphs">&quot;</tspan></text></g>
<g transform="translate(1073,96) rotate(-8.8)"><rect width="131" height="36" fill="#e8eceb"/><title>&gt; RWD: 반응형 웹 디자인</title><text y="24" font-size="13.2" fill="#000" stroke="#000" stroke-width="0.3"><tspan x="2.4" textLength="41.2" lengthAdjust="spacingAndGlyphs">&gt; RWD:</tspan><tspan x="46.4 57.3 68.3" font-size="11.9">반응형</tspan><tspan x="82.1" font-size="11.9">웹</tspan><tspan x="95.8 106.8 117.7" font-size="11.9">디자인</tspan></text></g>
<g transform="translate(1265,77) rotate(0)"><rect width="161" height="42" fill="#f0f0f0"/><title>makes: 만듭니다</title><text y="31" font-size="25.0" fill="#000" stroke="#000" stroke-width="0.54"><tspan x="1.9" textLength="74.8" lengthAdjust="spacingAndGlyphs">makes:</tspan><tspan x="81.7 101.0 120.4 139.8" font-size="21.0">만듭니다</tspan></text></g>
<g transform="translate(1220,127) rotate(-0.3)"><rect width="246" height="40" fill="#f0f0f0"/><title>web render: 웹 렌더링</title><text y="31" font-size="27.0" fill="#000" stroke="#000" stroke-width="0.61"><tspan x="1.7" textLength="142.8" lengthAdjust="spacingAndGlyphs">web render:</tspan><tspan x="150.2" font-size="24.0">웹</tspan><tspan x="178.0 200.1 222.2" font-size="24.0">렌더링</tspan></text></g>
<g transform="translate(1226,172) rotate(0)"><rect width="237" height="40" fill="#f0f0f0"/><title>nicely on a: 깔끔하게</title><text y="31" font-size="27.3" fill="#000" stroke="#000" stroke-width="0.63"><tspan x="1.7" textLength="137.4" lengthAdjust="spacingAndGlyphs">nicely on a:</tspan><tspan x="144.9 167.5 190.1 212.7" font-size="24.6">깔끔하게</tspan></text></g>
<g transform="translate(1187,216) rotate(0)"><rect width="224" height="46" fill="#f0f0f0"/><title>variety of: 다양한</title><text y="35" font-size="31.3" fill="#000" stroke="#000" stroke-width="0.72"><tspan x="0.5" textLength="138.6" lengthAdjust="spacingAndGlyphs">variety of:</tspan><tspan x="145.8 171.7 197.6" font-size="28.1">다양한</tspan></text></g>
<g transform="translate(1187,266) rotate(0)"><rect width="282" height="45" fill="#f0f0f0"/><title>screen sizes!: 화면 크기!</title><text y="33" font-size="28.3" fill="#000" stroke="#000" stroke-width="0.65"><tspan x="0.6" textLength="166.3" lengthAdjust="spacingAndGlyphs">screen sizes!:</tspan><tspan x="173.0 196.4" font-size="25.4">화면</tspan><tspan x="225.8 249.2" font-size="25.4">크기</tspan><tspan x="272.6" textLength="8.7" lengthAdjust="spacingAndGlyphs">!</tspan></text></g>
<g transform="translate(1567,106) rotate(-2.2)"><rect width="208" height="77" fill="#f0f0f0"/><title>body &amp;: 본문 및</title><text y="51" font-size="32.5" fill="#000" stroke="#000" stroke-width="0.75"><tspan x="1.4" textLength="110.4" lengthAdjust="spacingAndGlyphs">body &amp;:</tspan><tspan x="118.8 145.7" font-size="29.3">본문</tspan><tspan x="179.6" font-size="29.3">및</tspan></text></g>
<g transform="translate(1378,369) rotate(-0.8)"><rect width="874" height="66" fill="#f0f0f0"/><title>Inspect in browser dev tools: 브라우저 개발 도구에서 검사</title><text y="45" font-size="34.1" fill="#000" stroke="#000" stroke-width="0.85"><tspan x="2.2" textLength="471.4" lengthAdjust="spacingAndGlyphs">Inspect in browser dev tools:</tspan><tspan x="481.6 512.1 542.7 573.2" font-size="33.2">브라우저</tspan><tspan x="611.6 642.2" font-size="33.2">개발</tspan><tspan x="680.6 711.2 741.7 772.2" font-size="33.2">도구에서</tspan><tspan x="810.7 841.2" font-size="33.2">검사</tspan></text></g>
<g transform="translate(1032,453) rotate(20.7)"><rect width="137" height="31" fill="#e9ecea"/><title>[head &gt;: [헤드 &gt;</title><text y="21" font-size="17.6" fill="#000" stroke="#000" stroke-width="0.47"><tspan x="2.0" textLength="84.0" lengthAdjust="spacingAndGlyphs">[head &gt;: [</tspan><tspan x="86.0 102.9" font-size="18.4">헤드</tspan><tspan x="124.1" textLength="10.8" lengthAdjust="spacingAndGlyphs">&gt;</tspan></text></g>
<polygon points="1960.7,35.2 2449.6,66.8 2441.5,182 1953.1,150.3" fill="#f0f0f0"/><g transform="translate(1959.5,125.5) rotate(4.08)"><title>Inheritance: 상속</title><text y="0" font-size="60.1" fill="#000" stroke="#000" stroke-width="1.94"><tspan x="-3.2" textLength="363.2" lengthAdjust="spacingAndGlyphs">Inheritance:</tspan><tspan x="374.4 430.3" font-size="60.8">상속</tspan></text></g>
<g transform="translate(1610,185) rotate(-0.4)"><rect width="703" height="72" fill="#eeeff2"/><title>font - family : helvetica ,: 글꼴 - 패밀리: 헬베티카,</title><text y="50" font-size="35.0" fill="#000" stroke="#000" stroke-width="0.8"><tspan x="2.3" textLength="378.8" lengthAdjust="spacingAndGlyphs">font - family : helvetica ,:</tspan><tspan x="388.6 417.4" font-size="31.3">글꼴</tspan><tspan x="453.7" textLength="11.6" lengthAdjust="spacingAndGlyphs">-</tspan><tspan x="472.8 501.6 530.5" font-size="31.3">패밀리</tspan><tspan x="559.3" textLength="9.3" lengthAdjust="spacingAndGlyphs">:</tspan><tspan x="576.0 604.9 633.7 662.6" font-size="31.3">헬베티카</tspan><tspan x="691.4" textLength="9.3" lengthAdjust="spacingAndGlyphs">,</tspan></text></g>
<g transform="translate(1701,259) rotate(-0.6)"><rect width="669" height="69" fill="#eeeff2"/><title>arial, sans-serif ; }: 아리얼, 산세리프;}</title><text y="52" font-size="44.2" fill="#000" stroke="#000" stroke-width="1.27"><tspan x="0.9" textLength="354.5" lengthAdjust="spacingAndGlyphs">arial, sans-serif ; }:</tspan><tspan x="364.8 401.4 438.0" font-size="39.7">아리얼</tspan><tspan x="474.6" textLength="11.8" lengthAdjust="spacingAndGlyphs">,</tspan><tspan x="495.8 532.4 568.9 605.5" font-size="39.7">산세리프</tspan><tspan x="642.1" textLength="26.0" lengthAdjust="spacingAndGlyphs">;}</tspan></text></g>
<g transform="translate(1997,448) rotate(0)"><rect width="315" height="61" fill="#f0f0f0"/><title>HI&#x27;s font is: HI의 글꼴은</title><text y="48" font-size="32.3" fill="#000" stroke="#000" stroke-width="0.74"><tspan x="1.5" textLength="198.1" lengthAdjust="spacingAndGlyphs">HI&#x27;s font is: HI</tspan><tspan x="199.5" font-size="29.1">의</tspan><tspan x="233.2 260.0 286.8" font-size="29.1">글꼴은</tspan></text></g>
<g transform="translate(2010,520) rotate(-1)"><rect width="370" height="52" fill="#f0f0f0"/><title>inherited from: ~에서 상속됨</title><text y="39" font-size="31.1" fill="#000" stroke="#000" stroke-width="0.71"><tspan x="1.5" textLength="231.7" lengthAdjust="spacingAndGlyphs">inherited from: ~</tspan><tspan x="233.2 258.9" font-size="28.0">에서</tspan><tspan x="291.3 317.0 342.8" font-size="28.0">상속됨</tspan></text></g>
<g transform="translate(2015,573) rotate(0)"><rect width="239" height="57" fill="#f0f0f0"/><title>the body !: 본문!</title><text y="42" font-size="34.2" fill="#000" stroke="#000" stroke-width="0.78"><tspan x="1.4" textLength="161.9" lengthAdjust="spacingAndGlyphs">the body !:</tspan><tspan x="170.5 198.8" font-size="30.7">본문</tspan><tspan x="227.1" textLength="10.6" lengthAdjust="spacingAndGlyphs">!</tspan></text></g>
<g transform="translate(490,591) rotate(-1)"><rect width="587" height="74" fill="#f0f0f0"/><title>href = &quot; style. CSS&quot;&gt;: href = &quot;style.css&quot;&gt;</title><text y="50" font-size="35.0" fill="#000" stroke="#000" stroke-width="0.78"><tspan x="1.4" textLength="584.3" lengthAdjust="spacingAndGlyphs">href = &quot; style. CSS&quot;&gt;: href = &quot;style.css&quot;&gt;</tspan></text></g>
<g transform="translate(13,706) rotate(-1.5)"><rect width="985" height="63" fill="#eeeff1"/><title>index. html ~ &lt; h1 Style =&quot;color: red&quot;&gt;: index.html ~ &lt;h1 스타일=&quot;색상: 빨강&quot;&gt;</title><text y="40" font-size="29.7" fill="#000" stroke="#000" stroke-width="0.68"><tspan x="1.6" textLength="730.9" lengthAdjust="spacingAndGlyphs">index. html ~ &lt; h1 Style =&quot;color: red&quot;&gt;: index.html ~ &lt;h1</tspan><tspan x="738.9 763.4 788.0" font-size="26.7">스타일</tspan><tspan x="812.5" textLength="29.2" lengthAdjust="spacingAndGlyphs">=&quot;</tspan><tspan x="841.7 866.3" font-size="26.7">색상</tspan><tspan x="890.8" textLength="7.9" lengthAdjust="spacingAndGlyphs">:</tspan><tspan x="905.1 929.7" font-size="26.7">빨강</tspan><tspan x="954.2" textLength="29.2" lengthAdjust="spacingAndGlyphs">&quot;&gt;</tspan></text></g>
<g transform="translate(352,858) rotate(0)"><rect width="120" height="74" fill="#f0f0f0"/><title>h1 }: h1}</title><text y="52" font-size="33.4" fill="#000" stroke="#000" stroke-width="0.77"><tspan x="0.4" textLength="119.2" lengthAdjust="spacingAndGlyphs">h1 }: h1}</tspan></text></g>
<g transform="translate(389,932) rotate(-1.2)"><rect width="382" height="65" fill="#f0f0f0"/><title>color : blue ;: 색상: 파랑;</title><text y="46" font-size="40.0" fill="#000" stroke="#000" stroke-width="0.87"><tspan x="2.2" textLength="216.0" lengthAdjust="spacingAndGlyphs">color : blue ;:</tspan><tspan x="226.3 257.6" font-size="34.0">색상</tspan><tspan x="288.9" textLength="10.1" lengthAdjust="spacingAndGlyphs">:</tspan><tspan x="307.1 338.4" font-size="34.0">파랑</tspan><tspan x="369.7" textLength="10.1" lengthAdjust="spacingAndGlyphs">;</tspan></text></g>
<g transform="translate(340,987) rotate(0)"><rect width="29" height="56" fill="#f0f0f0"/><title>}: }</title><text y="40" font-size="26.2" fill="#000" stroke="#000" stroke-width="0.6"><tspan x="-0.3" textLength="29.5" lengthAdjust="spacingAndGlyphs">}: }</tspan></text></g>
<g transform="translate(41,1025) rotate(-0.8)"><rect width="204" height="50" fill="#f0f0f0"/><title>Style . CSS: 스타일.css</title><text y="32" font-size="22.0" fill="#000" stroke="#000" stroke-width="0.5"><tspan x="1.0" textLength="107.5" lengthAdjust="spacingAndGlyphs">Style . CSS:</tspan><tspan x="113.2 131.2 149.2" font-size="19.6">스타일</tspan><tspan x="167.2" textLength="35.9" lengthAdjust="spacingAndGlyphs">.css</tspan></text></g>
<g transform="translate(86,633) rotate(-1)"><rect width="71" height="37" fill="#c7dfe8"/><title>&lt;1&gt;: &lt;1&gt;</title><text y="25" font-size="15.4" fill="#000" stroke="#000" stroke-width="0.46"><tspan x="-1.0" textLength="72.9" lengthAdjust="spacingAndGlyphs">&lt;1&gt;: &lt;1&gt;</tspan></text></g>
<g transform="translate(94,927) rotate(0)"><rect width="73" height="58" fill="#f1dfa3"/><title>{ }: { }</title><text y="44" font-size="29.7" fill="#000" stroke="#000" stroke-width="0.75"><tspan x="0.4" textLength="72.1" lengthAdjust="spacingAndGlyphs">{ }: { }</tspan></text></g>
<g transform="translate(665,843) rotate(-12.8)"><rect width="126" height="33" fill="#f0f0f0"/><title>css file: CSS 파일</title><text y="23" font-size="16.5" fill="#000" stroke="#000" stroke-width="0.39"><tspan x="3.2" textLength="88.0" lengthAdjust="spacingAndGlyphs">css file: CSS</tspan><tspan x="94.8 108.8" font-size="15.2">파일</tspan></text></g>
<g transform="translate(797,768) rotate(-1.8)"><rect width="124" height="45" fill="#f0f0f0"/><title>inline: 인라인</title><text y="31" font-size="22.4" fill="#000" stroke="#000" stroke-width="0.51"><tspan x="0.9" textLength="61.8" lengthAdjust="spacingAndGlyphs">inline:</tspan><tspan x="67.5 86.0 104.6" font-size="20.1">인라인</tspan></text></g>
<g transform="translate(1064,677) rotate(0)"><rect width="142" height="49" fill="#f0e6e4"/><title>&lt;body&gt;: &lt;본문&gt;</title><text y="31" font-size="20.9" fill="#000" stroke="#000" stroke-width="0.5"><tspan x="-0.0" textLength="94.5" lengthAdjust="spacingAndGlyphs">&lt;body&gt;: &lt;</tspan><tspan x="94.4 112.4" font-size="19.6">본문</tspan><tspan x="130.5" textLength="11.6" lengthAdjust="spacingAndGlyphs">&gt;</tspan></text></g>
<g transform="translate(887,884) rotate(-0.8)"><rect width="115" height="40" fill="#f0f0f0"/><title>who: 누구</title><text y="32" font-size="27.5" fill="#000" stroke="#000" stroke-width="0.65"><tspan x="-0.4" textLength="62.5" lengthAdjust="spacingAndGlyphs">who:</tspan><tspan x="68.2 91.8" font-size="25.6">누구</tspan></text></g>
<g transform="translate(889,934) rotate(-2)"><rect width="151" height="45" fill="#f0f0f0"/><title>takes: 가져옵니다</title><text y="30" font-size="21.2" fill="#000" stroke="#000" stroke-width="0.49"><tspan x="1.0" textLength="56.7" lengthAdjust="spacingAndGlyphs">takes:</tspan><tspan x="62.2 79.8 97.3 114.9 132.5" font-size="19.1">가져옵니다</tspan></text></g>
<g transform="translate(898,990) rotate(-1.7)"><rect width="165" height="46" fill="#f0f0f0"/><title>over ?: 우선?</title><text y="36" font-size="29.7" fill="#000" stroke="#000" stroke-width="0.72"><tspan x="0.5" textLength="91.2" lengthAdjust="spacingAndGlyphs">over ?:</tspan><tspan x="98.5 124.4" font-size="28.2">우선</tspan><tspan x="150.3" textLength="14.2" lengthAdjust="spacingAndGlyphs">?</tspan></text></g>
<g transform="translate(1049,922) rotate(-11.3)"><rect width="47" height="41" fill="#efeceb"/><title>W: W</title><text y="27" font-size="19.0" fill="#000" stroke="#000" stroke-width="0.43"><tspan x="3.1" textLength="40.8" lengthAdjust="spacingAndGlyphs">W: W</tspan></text></g>
<g transform="translate(1121,951.5) rotate(-60.7)"><rect width="75" height="24" fill="#f0f0f0"/><title>red !: 빨강!</title><text y="17" font-size="14.3" fill="#000" stroke="#000" stroke-width="0.34"><tspan x="4.3" textLength="34.0" lengthAdjust="spacingAndGlyphs">red !:</tspan><tspan x="41.5 53.8" font-size="13.4">빨강</tspan><tspan x="66.1" textLength="4.6" lengthAdjust="spacingAndGlyphs">!</tspan></text></g>
<polygon points="1256.4,735.7 1615.7,680.7 1630.1,778.8 1265,841.1" fill="#f0f0f0"/><g transform="translate(1264.5,813.2) rotate(-9.37)"><title>Selectors: 선택자</title><text y="0" font-size="51.6" fill="#000" stroke="#000" stroke-width="1.48"><tspan x="-2.5" textLength="227.8" lengthAdjust="spacingAndGlyphs">Selectors:</tspan><tspan x="236.4 279.1 321.8" font-size="46.4">선택자</tspan></text></g>
<g transform="translate(1323,868) rotate(-2.5)"><rect width="207" height="78" fill="#f0f0f0"/><title>tag: 태그</title><text y="60" font-size="56.1" fill="#000" stroke="#000" stroke-width="1.68"><tspan x="-0.8" textLength="99.5" lengthAdjust="spacingAndGlyphs">tag:</tspan><tspan x="111.2 159.5" font-size="52.5">태그</tspan></text></g>
<g transform="translate(1388,945) rotate(0)"><rect width="113" height="60" fill="#f0f0f0"/><title>id: 아이디</title><text y="41" font-size="29.3" fill="#000" stroke="#000" stroke-width="0.67"><tspan x="0.6" textLength="32.9" lengthAdjust="spacingAndGlyphs">id:</tspan><tspan x="39.7 64.0 88.2" font-size="26.3">아이디</tspan></text></g>
<g transform="translate(1326,1018) rotate(-1.8)"><rect width="262" height="60" fill="#f0f0f0"/><title>Class: 클래스</title><text y="49" font-size="49.8" fill="#000" stroke="#000" stroke-width="1.43"><tspan x="-0.4" textLength="128.5" lengthAdjust="spacingAndGlyphs">Class:</tspan><tspan x="138.8 180.0 221.2" font-size="44.8">클래스</tspan></text></g>
<g transform="translate(1419,580) rotate(0)"><rect width="194" height="36" fill="#f0f0f0"/><title>&lt;p&gt; hello: &lt;p&gt; 안녕하세요</title><text y="26" font-size="17.6" fill="#000" stroke="#000" stroke-width="0.42"><tspan x="1.1" textLength="113.0" lengthAdjust="spacingAndGlyphs">&lt;p&gt; hello: &lt;p&gt;</tspan><tspan x="118.0 132.9 147.9 162.9 177.9" font-size="16.3">안녕하세요</tspan></text></g>
<g transform="translate(1746,555) rotate(0)"><rect width="125" height="24" fill="#f0f0f0"/><title>inherited: 상속됨</title><text y="17" font-size="16.5" fill="#000" stroke="#000" stroke-width="0.4"><tspan x="1.2" textLength="75.7" lengthAdjust="spacingAndGlyphs">inherited:</tspan><tspan x="80.6 95.0 109.4" font-size="15.7">상속됨</tspan></text></g>
<g transform="translate(1765,578) rotate(-3)"><rect width="140" height="30" fill="#f0f0f0"/><title>from body: 본문에서</title><text y="21" font-size="16.3" fill="#000" stroke="#000" stroke-width="0.38"><tspan x="1.2" textLength="80.0" lengthAdjust="spacingAndGlyphs">from body:</tspan><tspan x="84.7 98.2 111.7 125.3" font-size="14.7">본문에서</tspan></text></g>
<g transform="translate(1729,708) rotate(0)"><rect width="175" height="54" fill="#d9cfe1"/><title>&lt; body&gt;: &lt;본문&gt;</title><text y="37" font-size="26.0" fill="#000" stroke="#000" stroke-width="0.59"><tspan x="0.8" textLength="117.2" lengthAdjust="spacingAndGlyphs">&lt; body&gt;: &lt;</tspan><tspan x="117.9 139.3" font-size="23.2">본문</tspan><tspan x="160.6" textLength="13.7" lengthAdjust="spacingAndGlyphs">&gt;</tspan></text></g>
<g transform="translate(1825,813) rotate(0)"><rect width="134" height="47" fill="#c5dbea"/><title>&lt; h1&gt;: &lt;h1&gt;</title><text y="36" font-size="26.0" fill="#000" stroke="#000" stroke-width="0.59"><tspan x="1.8" textLength="130.5" lengthAdjust="spacingAndGlyphs">&lt; h1&gt;: &lt;h1&gt;</tspan></text></g>
<g transform="translate(1830,908) rotate(0)"><rect width="134" height="47" fill="#dae4ec"/><title>&lt;div &gt;: &lt;div&gt;</title><text y="35" font-size="23.9" fill="#000" stroke="#000" stroke-width="0.55"><tspan x="0.9" textLength="132.3" lengthAdjust="spacingAndGlyphs">&lt;div &gt;: &lt;div&gt;</tspan></text></g>
<g transform="translate(1931,991) rotate(0)"><rect width="102" height="41" fill="#f1dfb6"/><title>&lt; P &gt;: &lt;P&gt;</title><text y="31" font-size="23.6" fill="#000" stroke="#000" stroke-width="0.54"><tspan x="0.9" textLength="100.3" lengthAdjust="spacingAndGlyphs">&lt; P &gt;: &lt;P&gt;</tspan></text></g>
<g transform="translate(2051,1082) rotate(0)"><rect width="98" height="37" fill="#c5d6be"/><title>(em&gt;: (em&gt;</title><text y="24" font-size="18.7" fill="#000" stroke="#000" stroke-width="0.43"><tspan x="2.1" textLength="93.8" lengthAdjust="spacingAndGlyphs">(em&gt;: (em&gt;</tspan></text></g>
<g transform="translate(2109,731) rotate(-1.4)"><rect width="331" height="62" fill="#f0f0f0"/><title>inherit from: ~에서 상속</title><text y="46" font-size="33.3" fill="#000" stroke="#000" stroke-width="0.77"><tspan x="1.4" textLength="210.8" lengthAdjust="spacingAndGlyphs">inherit from: ~</tspan><tspan x="212.2 239.7" font-size="30.0">에서</tspan><tspan x="274.5 302.0" font-size="30.0">상속</tspan></text></g>
<g transform="translate(2156,797) rotate(-1.4)"><rect width="275" height="57" fill="#f0f0f0"/><title>parents to: 부모에서</title><text y="40" font-size="32.5" fill="#000" stroke="#000" stroke-width="0.75"><tspan x="1.4" textLength="157.5" lengthAdjust="spacingAndGlyphs">parents to:</tspan><tspan x="166.0 192.9 219.8 246.7" font-size="29.2">부모에서</tspan></text></g>
<g transform="translate(2191,863) rotate(-1.4)"><rect width="236" height="54" fill="#f0f0f0"/><title>Children: 자식</title><text y="42" font-size="39.4" fill="#000" stroke="#000" stroke-width="0.9"><tspan x="1.1" textLength="160.2" lengthAdjust="spacingAndGlyphs">Children:</tspan><tspan x="169.7 202.3" font-size="35.4">자식</tspan></text></g>
<g transform="translate(133,1208) rotate(-3.4)"><rect width="149" height="50" fill="#f0f0f0"/><title>more: 더 많은</title><text y="36" font-size="25.3" fill="#000" stroke="#000" stroke-width="0.61"><tspan x="0.7" textLength="70.1" lengthAdjust="spacingAndGlyphs">more:</tspan><tspan x="76.5" font-size="23.9">더</tspan><tspan x="104.2 126.3" font-size="23.9">많은</tspan></text></g>
<g transform="translate(133,1264) rotate(-2.6)"><rect width="268" height="58" fill="#f0f0f0"/><title>dominant: 우선적인</title><text y="42" font-size="32.7" fill="#000" stroke="#000" stroke-width="0.75"><tspan x="0.4" textLength="152.0" lengthAdjust="spacingAndGlyphs">dominant:</tspan><tspan x="159.5 186.5 213.5 240.5" font-size="29.4">우선적인</tspan></text></g>
<g transform="translate(568,1268) rotate(-1)"><rect width="172" height="62" fill="#f0f0f0"/><title>&lt; head &gt;: &lt;헤드&gt;</title><text y="39" font-size="23.1" fill="#000" stroke="#000" stroke-width="0.56"><tspan x="1.8" textLength="115.2" lengthAdjust="spacingAndGlyphs">&lt; head &gt;: &lt;</tspan><tspan x="117.1 137.2" font-size="21.8">헤드</tspan><tspan x="157.3" textLength="12.9" lengthAdjust="spacingAndGlyphs">&gt;</tspan></text></g>
<g transform="translate(503,1357) rotate(0)"><rect width="37" height="58" fill="#f0f0f0"/><title>1: 1</title><text y="40" font-size="20.9" fill="#000" stroke="#000" stroke-width="0.56"><tspan x="-0.2" textLength="37.3" lengthAdjust="spacingAndGlyphs">1: 1</tspan></text></g>
<g transform="translate(333,1426) rotate(0)"><rect width="57" height="42" fill="#f1dfa3"/><title>{ }: { }</title><text y="33" font-size="20.9" fill="#000" stroke="#000" stroke-width="0.6"><tspan x="-0.2" textLength="57.5" lengthAdjust="spacingAndGlyphs">{ }: { }</tspan></text></g>
<g transform="translate(412,1439) rotate(-0.5)"><rect width="191" height="50" fill="#f0f0f0"/><title>CSS file: CSS 파일</title><text y="37" font-size="25.3" fill="#000" stroke="#000" stroke-width="0.58"><tspan x="0.8" textLength="141.9" lengthAdjust="spacingAndGlyphs">CSS file: CSS</tspan><tspan x="148.1 169.2" font-size="22.9">파일</tspan></text></g>
<g transform="translate(339,1581) rotate(0)"><rect width="363" height="60" fill="#f0f0f0"/><title>Styles built into: 내장된 스타일</title><text y="40" font-size="28.6" fill="#000" stroke="#000" stroke-width="0.66"><tspan x="-0.4" textLength="208.3" lengthAdjust="spacingAndGlyphs">Styles built into:</tspan><tspan x="214.1 238.0 261.8" font-size="25.9">내장된</tspan><tspan x="291.8 315.7 339.5" font-size="25.9">스타일</tspan></text></g>
<g transform="translate(348,1645) rotate(0)"><rect width="333" height="47" fill="#f0f0f0"/><title>web browsers: 웹 브라우저</title><text y="34" font-size="29.7" fill="#000" stroke="#000" stroke-width="0.69"><tspan x="0.6" textLength="194.6" lengthAdjust="spacingAndGlyphs">web browsers:</tspan><tspan x="201.6" font-size="27.0">웹</tspan><tspan x="233.0 257.8 282.7 307.6" font-size="27.0">브라우저</tspan></text></g>
<g transform="translate(700,1164) rotate(-1.4)"><rect width="293" height="53" fill="#f0f0f0"/><title>inline styles: 인라인 스타일</title><text y="34" font-size="26.4" fill="#000" stroke="#000" stroke-width="0.62"><tspan x="-0.3" textLength="148.7" lengthAdjust="spacingAndGlyphs">inline styles:</tspan><tspan x="154.1 176.4 198.6" font-size="24.2">인라인</tspan><tspan x="226.6 248.8 271.1" font-size="24.2">스타일</tspan></text></g>
<g transform="translate(769,1423) rotate(-1.3)"><rect width="275" height="73" fill="#eef0ec"/><title>Cascade: 계단식</title><text y="52" font-size="41.0" fill="#000" stroke="#000" stroke-width="0.94"><tspan x="0.0" textLength="164.4" lengthAdjust="spacingAndGlyphs">Cascade:</tspan><tspan x="173.2 207.2 241.1" font-size="36.9">계단식</tspan></text></g>
<g transform="translate(1139,1136) rotate(-1.3)"><rect width="541" height="77" fill="#eff0f0"/><title>&lt; div id = &quot; plant 1 &quot;: &lt;div 아이디 = &quot;plant 1&quot;</title><text y="49" font-size="27.5" fill="#000" stroke="#000" stroke-width="0.67"><tspan x="0.6" textLength="317.4" lengthAdjust="spacingAndGlyphs">&lt; div id = &quot; plant 1 &quot;: &lt;div</tspan><tspan x="324.2 348.2 372.3" font-size="26.1">아이디</tspan><tspan x="402.5" textLength="137.9" lengthAdjust="spacingAndGlyphs">= &quot;plant 1&quot;</tspan></text></g>
<g transform="translate(1298,1213) rotate(-1.7)"><rect width="392" height="68" fill="#f0f0f0"/><title>class = &quot; plant: 클래스 = &quot;plant</title><text y="43" font-size="27.5" fill="#000" stroke="#000" stroke-width="0.7"><tspan x="0.5" textLength="195.1" lengthAdjust="spacingAndGlyphs">class = &quot; plant:</tspan><tspan x="202.2 227.2 252.3" font-size="27.3">클래스</tspan><tspan x="283.9" textLength="107.5" lengthAdjust="spacingAndGlyphs">= &quot;plant</tspan></text></g>
<g transform="translate(1718,1208) rotate(2.5)"><rect width="54" height="61" fill="#f0f0f0"/><title>&gt;: &gt;</title><text y="48" font-size="29.7" fill="#000" stroke="#000" stroke-width="0.79"><tspan x="0.3" textLength="53.3" lengthAdjust="spacingAndGlyphs">&gt;: &gt;</tspan></text></g>
<polygon points="1158,1344.6 1517.5,1314 1535.1,1424.4 1162.5,1465.2" fill="#f0f0f0"/><g transform="translate(1164.2,1422.8) rotate(-4.9)"><title>Layouts: 레이아웃</title><text y="0" font-size="50.3" fill="#000" stroke="#000" stroke-width="1.44"><tspan x="-2.4" textLength="190.6" lengthAdjust="spacingAndGlyphs">Layouts:</tspan><tspan x="199.0 240.6 282.2 323.8" font-size="45.2">레이아웃</tspan></text></g>
<g transform="translate(1166,1485) rotate(-3)"><rect width="418" height="60" fill="#f0f0f0"/><title>positioning: 위치 지정</title><text y="46" font-size="41.8" fill="#000" stroke="#000" stroke-width="1.31"><tspan x="1.8" textLength="243.4" lengthAdjust="spacingAndGlyphs">positioning:</tspan><tspan x="255.0 292.9" font-size="41.1">위치</tspan><tspan x="340.5 378.4" font-size="41.1">지정</tspan></text></g>
<g transform="translate(1169,1553) rotate(-2)"><rect width="503" height="66" fill="#f0f0f0"/><title>display rules: 표시 규칙</title><text y="50" font-size="49.5" fill="#000" stroke="#000" stroke-width="1.5"><tspan x="0.5" textLength="307.0" lengthAdjust="spacingAndGlyphs">display rules:</tspan><tspan x="318.7 361.9" font-size="46.9">표시</tspan><tspan x="416.2 459.3" font-size="46.9">규칙</tspan></text></g>
<g transform="translate(1179,1620) rotate(-1)"><rect width="273" height="69" fill="#f0f0f0"/><title>v flows: v 흐름</title><text y="53" font-size="46.0" fill="#000" stroke="#000" stroke-width="1.32"><tspan x="-0.2" textLength="187.3" lengthAdjust="spacingAndGlyphs">v flows: v</tspan><tspan x="197.0 235.1" font-size="41.4">흐름</tspan></text></g>
<g transform="translate(1467,1631) rotate(-1.5)"><rect width="173" height="51" fill="#f0f0f0"/><title>etc .: 기타.</title><text y="37" font-size="39.6" fill="#000" stroke="#000" stroke-width="0.93"><tspan x="0.1" textLength="86.2" lengthAdjust="spacingAndGlyphs">etc .:</tspan><tspan x="95.0 128.6" font-size="36.5">기타</tspan><tspan x="162.1" textLength="10.8" lengthAdjust="spacingAndGlyphs">.</tspan></text></g>
<g transform="translate(1862,1205) rotate(0)"><rect width="509" height="80" fill="#f0f0f0"/><title># plant 1 &amp; . . . . }: #plant 1 &amp; ....}</title><text y="55" font-size="36.3" fill="#000" stroke="#000" stroke-width="0.85"><tspan x="0.2" textLength="508.5" lengthAdjust="spacingAndGlyphs"># plant 1 &amp; . . . . }: #plant 1 &amp; ....}</tspan></text></g>
<g transform="translate(1749,1343) rotate(-1.5)"><rect width="228" height="65" fill="#f0f0f0"/><title>· plant &amp;: · 식물 &amp;</title><text y="44" font-size="27.5" fill="#000" stroke="#000" stroke-width="0.66"><tspan x="3.6" textLength="142.5" lengthAdjust="spacingAndGlyphs">· plant &amp;: ·</tspan><tspan x="152.3 175.9" font-size="25.7">식물</tspan><tspan x="205.8" textLength="18.6" lengthAdjust="spacingAndGlyphs">&amp;</tspan></text></g>
<g transform="translate(1832,1408) rotate(-1.1)"><rect width="621" height="62" fill="#f0f0f0"/><title>Position : absolute ;: 위치: 절대;</title><text y="47" font-size="42.9" fill="#000" stroke="#000" stroke-width="1.34"><tspan x="0.8" textLength="420.5" lengthAdjust="spacingAndGlyphs">Position : absolute ;:</tspan><tspan x="431.3 469.8" font-size="41.9">위치</tspan><tspan x="508.4" textLength="12.4" lengthAdjust="spacingAndGlyphs">:</tspan><tspan x="530.7 569.3" font-size="41.9">절대</tspan><tspan x="607.8" textLength="12.4" lengthAdjust="spacingAndGlyphs">;</tspan></text></g>
<g transform="translate(1835,1477) rotate(-0.7)"><rect width="473" height="56" fill="#f0f0f0"/><title>width : 150% ;: 너비: 150%;</title><text y="44" font-size="40.9" fill="#000" stroke="#000" stroke-width="0.94"><tspan x="0.0" textLength="264.9" lengthAdjust="spacingAndGlyphs">width : 150% ;:</tspan><tspan x="273.7 307.5" font-size="36.8">너비</tspan><tspan x="341.3" textLength="131.6" lengthAdjust="spacingAndGlyphs">: 150%;</tspan></text></g>
<g transform="translate(1840,1539) rotate(-0.5)"><rect width="422" height="58" fill="#f0f0f0"/><title>Z - index: 2 ;: Z-인덱스: 2;</title><text y="44" font-size="40.5" fill="#000" stroke="#000" stroke-width="0.93"><tspan x="0.1" textLength="269.7" lengthAdjust="spacingAndGlyphs">Z - index: 2 ;: Z-</tspan><tspan x="269.8 303.3 336.8" font-size="36.4">인덱스</tspan><tspan x="370.2" textLength="51.7" lengthAdjust="spacingAndGlyphs">: 2;</tspan></text></g>
<g transform="translate(1783,1599) rotate(0)"><rect width="33" height="48" fill="#f0f0f0"/><title>3: 3</title><text y="33" font-size="17.6" fill="#000" stroke="#000" stroke-width="0.49"><tspan x="-0.0" textLength="33.1" lengthAdjust="spacingAndGlyphs">3: 3</tspan></text></g>
<g transform="translate(1695,1686) rotate(-1.2)"><rect width="767" height="52" fill="#f0f0f0"/><title>@AzureAdvocates/ @girlie_mac: @AzureAdvocates/ @girlie_mac</title><text y="35" font-size="26.4" fill="#000" stroke="#000" stroke-width="0.61"><tspan x="0.7" textLength="765.5" lengthAdjust="spacingAndGlyphs">@AzureAdvocates/ @girlie_mac: @AzureAdvocates/ @girlie_mac</tspan></text></g>
<g transform="translate(1365,471) rotate(-0.5)"><rect width="215" height="47" fill="#dfe1e0"/><title>elements: 요소들</title><text y="36" font-size="30.1" fill="#000" stroke="#000" stroke-width="0.69"><tspan x="0.6" textLength="132.7" lengthAdjust="spacingAndGlyphs">elements:</tspan><tspan x="139.7 164.6 189.5" font-size="27.1">요소들</tspan></text></g>
<g transform="translate(1382,532) rotate(-0.9)"><rect width="276" height="45" fill="#dde8ec"/><title>&lt; ni &gt; my web: &lt;ni&gt; 내 웹</title><text y="32" font-size="26.1" fill="#000" stroke="#000" stroke-width="0.6"><tspan x="0.8" textLength="220.1" lengthAdjust="spacingAndGlyphs">&lt; ni &gt; my web: &lt;ni&gt;</tspan><tspan x="226.4" font-size="23.5">내</tspan><tspan x="253.6" font-size="23.5">웹</tspan></text></g>
<g transform="translate(1740,519) rotate(-1)"><rect width="97" height="28" fill="#262626"/><title>styles: 스타일</title><text y="21" font-size="17.1" fill="#f2f2f2" stroke="#f2f2f2" stroke-width="0.39"><tspan x="1.2" textLength="48.4" lengthAdjust="spacingAndGlyphs">styles:</tspan><tspan x="53.3 67.4 81.6" font-size="15.4">스타일</tspan></text></g>
</g>
<g id="over">
<!-- hand -->
<g>
<path d="M1689,584 C1687,575 1685,565 1684,554 C1684,545 1688,540 1693,540 C1699,540 1703,545 1705,552 C1708,562 1710,572 1712,581 C1714,577 1717,575 1720,575 C1724,575 1727,578 1728,582 L1730,592 C1732,588 1735,586 1738,587 C1742,587 1744,590 1745,593 C1747,598 1747,602 1747,606 C1746,611 1745,615 1743,619 L1745,638 L1700,651 C1696,649 1693,646 1692,643 L1689,624 C1685,617 1682,610 1681,603 C1680,598 1680,593 1681,589 C1683,586 1686,584 1689,584 Z" fill="#fff" stroke="#222" stroke-width="4.5" stroke-linejoin="round"/>
<g filter="url(#wc1)"><path d="M1695,612 L1702,606 L1708,628 L1700,632 Z" fill="#cfcfcf"/><path d="M1718,622 L1726,618 L1726,628 Z" fill="#ddd"/></g>
<path class="k" d="M1703,610 L1706,629 M1713,606 L1716,624 M1722,606 L1725,619" stroke-width="4"/>
</g>
<path class="k" d="M1995,443 L1998,440 M2005,451 L2012,447" stroke-width="3.5"/>
<!-- faint scribbles under footer -->
<g fill="none" stroke="#b9b9b1" stroke-width="3" stroke-linecap="round" opacity="0.7">
<path d="M1790,1740 L1830,1738 M1860,1742 L1900,1739 M1935,1741 L1960,1738 M2000,1742 L2040,1739 M2080,1741 L2130,1737 M2170,1746 L2185,1732 M2200,1738 L2235,1734 M2250,1744 L2256,1738"/>
</g>
<!-- tiny marks under boxes -->
<g class="k" stroke-width="3">
<path d="M1345,214.5 L1350,213"/><path d="M582,274 L586,272"/><path d="M1457,619 L1462,619"/><path d="M104,1075 L111,1074"/><path d="M344,1046 L352,1046"/><path d="M1784,1652 L1792,1653"/>
</g>

</g>
</svg>
</body></html>
